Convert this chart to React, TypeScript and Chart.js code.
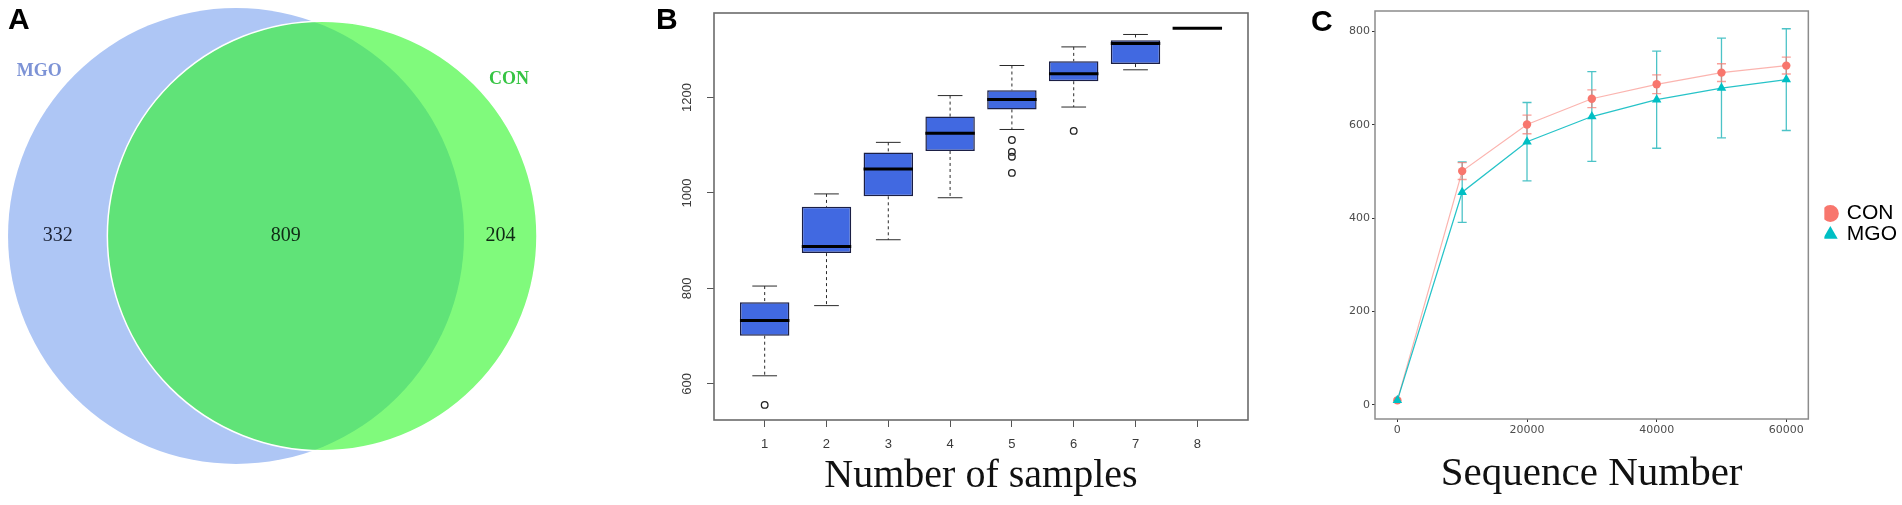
import React, { useEffect, useRef } from "react";
import { Chart, registerables } from "chart.js";

Chart.register(...registerables);

const SERIF = "'Liberation Serif', 'Times New Roman', serif";
const SANS = "'Liberation Sans', Arial, sans-serif";
const DEJAVU = "'DejaVu Sans', sans-serif";
Chart.defaults.font.family = SANS;

// ---------- Panel A: Venn diagram ----------
const vennSets = ["MGO", "CON"];
const vennOnly = [332, 204];
const vennShared = 809;
const vennCatPos = [-50, 50]; // degrees from north
const vennCatDist = 2.42; // in area units
const vennXRange = [-19.73, 27.08];
const vennYRange = [-22.49, 19.73];

// ---------- Panel B: box plots ----------
const boxX = [1, 2, 3, 4, 5, 6, 7, 8];
const boxWhiskerHigh = [805, 998, 1106, 1204, 1267, 1306, 1332, 1345];
const boxQ3 = [771, 971, 1085, 1160, 1215, 1276, 1320, 1345];
const boxMedian = [733, 888, 1050, 1125, 1196, 1250, 1313, 1345];
const boxQ1 = [701, 874, 993, 1088, 1175, 1234, 1270, 1345];
const boxWhiskerLow = [617, 764, 902, 990, 1133, 1180, 1258, 1345];
const outlierX = [1, 5, 5, 5, 5, 6];
const outlierY = [556, 1111, 1086, 1076, 1042, 1130];
const boxYTicks = [600, 800, 1000, 1200];

// ---------- Panel C: rarefaction curves ----------
const seqX = [0, 10000, 20000, 30000, 40000, 50000, 60000];
const conMean = [10, 501, 601, 656, 687, 712, 727];
const conErr = [0, 18, 20, 19, 20, 19, 18];
const mgoMean = [10, 456, 564, 618, 654, 679, 697];
const mgoErr = [0, 65, 84, 96, 104, 107, 109];
const seqXTicks = [0, 20000, 40000, 60000];
const seqYTicks = [0, 200, 400, 600, 800];

const CON_COLOR = "#F8766D";
const MGO_COLOR = "#00BFC4";

// ---------- helpers ----------
function framePlugin(id: string, color: string, width: number) {
  return {
    id,
    afterDraw(chart: any) {
      const { ctx, chartArea: a } = chart;
      ctx.save();
      ctx.strokeStyle = color;
      ctx.lineWidth = width;
      ctx.strokeRect(a.left, a.top, a.right - a.left, a.bottom - a.top);
      ctx.restore();
    },
  };
}

function lensArea(r1: number, r2: number, d: number) {
  if (d >= r1 + r2) return 0;
  if (d <= Math.abs(r1 - r2)) return Math.PI * Math.min(r1, r2) ** 2;
  const a = r1 * r1 * Math.acos((d * d + r1 * r1 - r2 * r2) / (2 * d * r1));
  const b = r2 * r2 * Math.acos((d * d + r2 * r2 - r1 * r1) / (2 * d * r2));
  const c = 0.5 * Math.sqrt((-d + r1 + r2) * (d + r1 - r2) * (d - r1 + r2) * (d + r1 + r2));
  return a + b - c;
}

const vennSizes = vennOnly.map((v) => v + vennShared);
const vennRadii = vennSizes.map((s) => Math.sqrt(s / Math.PI));
const vennDist = (() => {
  let lo = Math.abs(vennRadii[0] - vennRadii[1]);
  let hi = vennRadii[0] + vennRadii[1];
  for (let i = 0; i < 80; i++) {
    const mid = (lo + hi) / 2;
    if (lensArea(vennRadii[0], vennRadii[1], mid) > vennShared) lo = mid;
    else hi = mid;
  }
  return (lo + hi) / 2;
})();
const vennCenters = [0, vennDist];

function unitPx(chart: any) {
  const s = chart.scales.x;
  return Math.abs(s.getPixelForValue(1) - s.getPixelForValue(0));
}

const vennLabelPlugin = {
  id: "vennLabels",
  afterDatasetsDraw(chart: any) {
    const { ctx } = chart;
    const x = chart.scales.x;
    const y = chart.scales.y;
    const nameColors = ["#7d93d6", "#36c443"];
    ctx.save();
    ctx.textAlign = "center";
    ctx.textBaseline = "middle";
    ctx.font = `bold 18px ${SERIF}`;
    vennSets.forEach((name, i) => {
      const t = (vennCatPos[i] * Math.PI) / 180;
      const R = vennRadii[i] + vennCatDist;
      ctx.fillStyle = nameColors[i];
      ctx.fillText(
        name,
        x.getPixelForValue(vennCenters[i] + R * Math.sin(t)),
        y.getPixelForValue(R * Math.cos(t))
      );
    });
    const leftEdgeB = vennCenters[1] - vennRadii[1];
    const rightEdgeA = vennCenters[0] + vennRadii[0];
    const regions = [
      { v: vennOnly[0], pos: (vennCenters[0] - vennRadii[0] + leftEdgeB) / 2, c: "#1c2336" },
      { v: vennShared, pos: (leftEdgeB + rightEdgeA) / 2, c: "#0f2a14" },
      { v: vennOnly[1], pos: (rightEdgeA + vennCenters[1] + vennRadii[1]) / 2, c: "#0f2a14" },
    ];
    ctx.font = `20px ${SERIF}`;
    regions.forEach((r) => {
      ctx.fillStyle = r.c;
      ctx.fillText(String(r.v), x.getPixelForValue(r.pos), y.getPixelForValue(0));
    });
    ctx.restore();
  },
};

function vennConfig(): any {
  return {
    type: "scatter",
    data: {
      datasets: [
        {
          label: vennSets[0],
          data: [{ x: vennCenters[0], y: 0 }],
          pointRadius: (c: any) => vennRadii[0] * unitPx(c.chart),
          pointBackgroundColor: "#aec6f5",
          pointBorderColor: "#aec6f5",
          pointBorderWidth: 0,
          order: 2,
        },
        {
          label: vennSets[1],
          data: [{ x: vennCenters[1], y: 0 }],
          pointRadius: (c: any) => vennRadii[1] * unitPx(c.chart),
          pointBackgroundColor: "rgba(43,247,37,0.6)",
          pointBorderColor: "#ffffff",
          pointBorderWidth: 1.5,
          order: 1,
        },
      ],
    },
    options: {
      responsive: false,
      animation: false,
      events: [],
      layout: { padding: 0 },
      plugins: { legend: { display: false }, tooltip: { enabled: false } },
      scales: {
        x: { type: "linear", display: false, min: vennXRange[0], max: vennXRange[1] },
        y: { type: "linear", display: false, min: vennYRange[0], max: vennYRange[1] },
      },
    },
    plugins: [vennLabelPlugin],
  };
}

function boxConfig(): any {
  const whiskerPts: any[] = [];
  boxX.forEach((x, i) => {
    whiskerPts.push(
      { x, y: boxWhiskerHigh[i] },
      { x, y: boxQ3[i] },
      { x, y: null },
      { x, y: boxQ1[i] },
      { x, y: boxWhiskerLow[i] },
      { x, y: null }
    );
  });
  const capPts = boxX.flatMap((x, i) => [
    { x, y: boxWhiskerHigh[i] },
    { x, y: boxWhiskerLow[i] },
  ]);
  const tickFont = { family: SANS, size: 13 };
  const grid = { display: true, drawOnChartArea: false, drawTicks: true, tickLength: 7, color: "#555", offset: false };
  return {
    type: "bar",
    data: {
      datasets: [
        {
          type: "line",
          data: whiskerPts,
          borderColor: "#2a2a2a",
          borderWidth: 1,
          borderDash: [3, 3],
          pointRadius: 0,
          spanGaps: false,
          order: 5,
        },
        {
          type: "bar",
          data: boxX.map((x, i) => ({ x, y: [boxQ1[i], boxQ3[i]] })),
          backgroundColor: "#4169E1",
          borderColor: "#1b1f45",
          borderWidth: 1.5,
          borderSkipped: false,
          barPercentage: 1,
          categoryPercentage: 0.8,
          order: 4,
        },
        {
          type: "line",
          data: capPts,
          showLine: false,
          pointStyle: "line",
          pointRadius: (c: any) => 0.2 * unitPx(c.chart),
          pointBorderColor: "#2a2a2a",
          pointBorderWidth: 1,
          order: 3,
        },
        {
          type: "line",
          data: boxX.map((x, i) => ({ x, y: boxMedian[i] })),
          showLine: false,
          pointStyle: "line",
          pointRadius: (c: any) => 0.4 * unitPx(c.chart),
          pointBorderColor: "#000",
          pointBorderWidth: 3,
          order: 2,
        },
        {
          type: "line",
          data: outlierX.map((x, i) => ({ x, y: outlierY[i] })),
          showLine: false,
          pointStyle: "circle",
          pointRadius: 3.3,
          pointBackgroundColor: "rgba(0,0,0,0)",
          pointBorderColor: "#222",
          pointBorderWidth: 1.3,
          order: 1,
        },
      ],
    },
    options: {
      responsive: false,
      animation: false,
      events: [],
      layout: { padding: { top: 13, right: 42, left: 0, bottom: 0 } },
      plugins: { legend: { display: false }, tooltip: { enabled: false } },
      scales: {
        x: {
          type: "linear",
          min: 0.18,
          max: 8.82,
          offset: false,
          afterBuildTicks: (s: any) => {
            s.ticks = boxX.map((v) => ({ value: v }));
          },
          afterFit: (s: any) => {
            s.height = 85;
          },
          grid,
          border: { display: false },
          ticks: { font: tickFont, color: "#3a3a3a", padding: 10, autoSkip: false, maxRotation: 0, callback: (v: any) => String(v) },
          title: {
            display: true,
            text: "Number of samples",
            font: { family: SERIF, size: 40, lineHeight: 1 },
            color: "#111",
            padding: { top: 0, bottom: 9 },
          },
        },
        y: {
          type: "linear",
          min: 524.4,
          max: 1377,
          afterBuildTicks: (s: any) => {
            s.ticks = boxYTicks.map((v) => ({ value: v }));
          },
          afterFit: (s: any) => {
            s.width = 114;
          },
          grid,
          border: { display: false },
          ticks: {
            font: tickFont,
            color: "#3a3a3a",
            padding: 5,
            minRotation: 90,
            maxRotation: 90,
            crossAlign: "center",
            autoSkip: false,
            callback: (v: any) => String(v),
          },
        },
      },
    },
    plugins: [framePlugin("frameB", "#6b6b6b", 1.6)],
  };
}

const errorBarPlugin = {
  id: "errorBars",
  beforeDatasetsDraw(chart: any) {
    const { ctx } = chart;
    const x = chart.scales.x;
    const y = chart.scales.y;
    const series = [
      { mean: mgoMean, err: mgoErr, color: "rgba(0,170,175,0.7)" },
      { mean: conMean, err: conErr, color: "rgba(248,118,109,0.7)" },
    ];
    ctx.save();
    ctx.lineWidth = 1.3;
    series.forEach((s) => {
      ctx.strokeStyle = s.color;
      seqX.forEach((xv, i) => {
        if (!s.err[i]) return;
        const px = x.getPixelForValue(xv);
        const top = y.getPixelForValue(s.mean[i] + s.err[i]);
        const bot = y.getPixelForValue(s.mean[i] - s.err[i]);
        ctx.beginPath();
        ctx.moveTo(px, top);
        ctx.lineTo(px, bot);
        ctx.moveTo(px - 4.5, top);
        ctx.lineTo(px + 4.5, top);
        ctx.moveTo(px - 4.5, bot);
        ctx.lineTo(px + 4.5, bot);
        ctx.stroke();
      });
    });
    ctx.restore();
  },
};

function curveConfig(): any {
  const tickFont = { family: DEJAVU, size: 11 };
  const grid = { display: true, drawOnChartArea: false, drawTicks: true, tickLength: 3, color: "#333" };
  return {
    type: "line",
    data: {
      datasets: [
        {
          label: "CON",
          data: seqX.map((x, i) => ({ x, y: conMean[i] })),
          borderColor: "rgba(248,118,109,0.55)",
          borderWidth: 1.2,
          pointStyle: "circle",
          pointRadius: 4.2,
          pointBackgroundColor: CON_COLOR,
          pointBorderColor: CON_COLOR,
          pointBorderWidth: 0,
          order: 1,
        },
        {
          label: "MGO",
          data: seqX.map((x, i) => ({ x, y: mgoMean[i] })),
          borderColor: "rgba(0,185,190,0.85)",
          borderWidth: 1.3,
          pointStyle: "triangle",
          pointRadius: 5.5,
          pointBackgroundColor: MGO_COLOR,
          pointBorderColor: MGO_COLOR,
          pointBorderWidth: 0,
          order: 0,
        },
      ],
    },
    options: {
      responsive: false,
      animation: false,
      events: [],
      layout: { padding: { top: 11, right: 0, left: 0, bottom: 0 } },
      plugins: {
        tooltip: { enabled: false },
        legend: {
          display: true,
          position: "right",
          align: "center",
          fullSize: false,
          title: { display: true, text: "", padding: 0, font: { size: 18, lineHeight: 1 } },
          labels: {
            usePointStyle: true,
            boxWidth: 12,
            boxHeight: 12,
            padding: 0,
            color: "#000",
            font: { family: SANS, size: 21, lineHeight: 1 },
            sort: (a: any, b: any) => a.datasetIndex - b.datasetIndex,
          },
        },
      },
      scales: {
        x: {
          type: "linear",
          min: -3450,
          max: 63400,
          afterBuildTicks: (s: any) => {
            s.ticks = seqXTicks.map((v) => ({ value: v }));
          },
          afterFit: (s: any) => {
            s.height = 86;
          },
          grid,
          border: { display: false },
          ticks: { font: tickFont, color: "#4d4d4d", padding: 2, autoSkip: false, maxRotation: 0, callback: (v: any) => String(v) },
          title: {
            display: true,
            text: "Sequence Number",
            font: { family: SERIF, size: 41, lineHeight: 1 },
            color: "#111",
            padding: { top: 0, bottom: 10 },
          },
        },
        y: {
          type: "linear",
          min: -30,
          max: 844,
          afterBuildTicks: (s: any) => {
            s.ticks = seqYTicks.map((v) => ({ value: v }));
          },
          afterFit: (s: any) => {
            s.width = 75;
          },
          grid,
          border: { display: false },
          ticks: { font: tickFont, color: "#4d4d4d", padding: 2, autoSkip: false, callback: (v: any) => String(v) },
        },
        yr: {
          type: "linear",
          position: "right",
          display: true,
          grid: { display: false },
          border: { display: false },
          ticks: { display: false },
          afterFit: (s: any) => {
            s.width = 16;
          },
        },
      },
    },
    plugins: [errorBarPlugin, framePlugin("frameC", "#8c8c8c", 1.5)],
  };
}

const letterStyle = (left: number, top: number): React.CSSProperties => ({
  position: "absolute",
  left,
  top,
  font: `bold 30px ${SANS}`,
  lineHeight: "30px",
  color: "#000",
});

export default function App() {
  const aRef = useRef<HTMLCanvasElement>(null);
  const bRef = useRef<HTMLCanvasElement>(null);
  const cRef = useRef<HTMLCanvasElement>(null);

  useEffect(() => {
    const charts = [
      new Chart(aRef.current as HTMLCanvasElement, vennConfig()),
      new Chart(bRef.current as HTMLCanvasElement, boxConfig()),
      new Chart(cRef.current as HTMLCanvasElement, curveConfig()),
    ];
    return () => charts.forEach((c) => c.destroy());
  }, []);

  return (
    <div
      style={{
        position: "absolute",
        left: 0,
        top: 0,
        width: 1902,
        height: 505,
        background: "#fff",
        overflow: "hidden",
      }}
    >
      <canvas ref={aRef} width={560} height={505} style={{ position: "absolute", left: 0, top: 0 }} />
      <canvas ref={bRef} width={690} height={505} style={{ position: "absolute", left: 600, top: 0 }} />
      <canvas ref={cRef} width={607} height={505} style={{ position: "absolute", left: 1300, top: 0 }} />
      <div style={letterStyle(8, 4)}>A</div>
      <div style={letterStyle(656, 4)}>B</div>
      <div style={letterStyle(1311, 6)}>C</div>
    </div>
  );
}
